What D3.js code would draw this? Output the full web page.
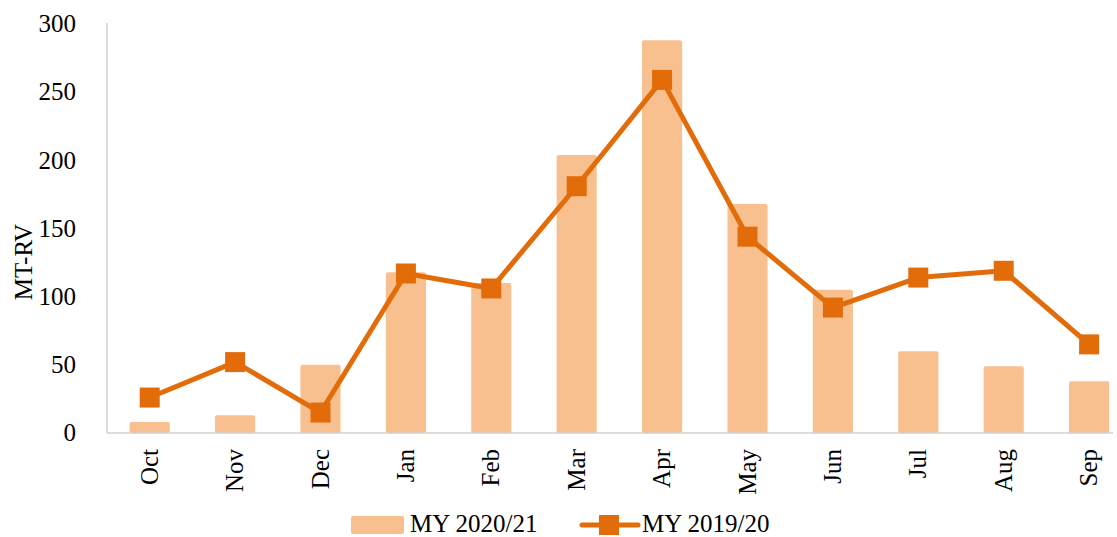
<!DOCTYPE html>
<html>
<head>
<meta charset="utf-8">
<script src="https://cdn.jsdelivr.net/npm/d3@7"></script>
<style>
  body { margin: 0; background: #fff; }
  svg text { font-family: 'Liberation Serif', serif; }
</style>
</head>
<body>
<script>
const width = 1117;
const height = 537;
const fontSize = 25;

// monthly data, MT-RV
const months = ['Oct', 'Nov', 'Dec', 'Jan', 'Feb', 'Mar', 'Apr', 'May', 'Jun', 'Jul', 'Aug', 'Sep'];
const my2021 = [8, 13, 50, 118, 110, 204, 288, 168, 105, 60, 49, 38];
const my1920 = [26, 52, 15, 117, 106, 181, 259, 144, 92, 114, 119, 65];
const yTicks = [0, 50, 100, 150, 200, 250, 300];

const barColor = '#f9c08f';
const lineColor = '#e36c0a';

const margin = { top: 24, bottom: 104, left: 107 };
const axisRight = 1113;

const svg = d3.create('svg')
  .attr('width', width)
  .attr('height', height);
document.body.appendChild(svg.node());

// plot area runs a little past the picture edge, as in the original
const x = d3.scaleBand()
  .domain(months)
  .range([margin.left, margin.left + 12 * 85.4])
  .paddingInner(0.53)
  .paddingOuter(0.265);

const y = d3.scaleLinear()
  .domain([0, 300])
  .range([height - margin.bottom, margin.top]);

svg.append('line')
  .attr('x1', margin.left).attr('x2', margin.left)
  .attr('y1', y(300) - 1).attr('y2', y(0))
  .attr('stroke', '#d0d0d0').attr('stroke-width', 1.5);

svg.selectAll('.ytick')
  .data(yTicks)
  .enter().append('text')
  .attr('class', 'ytick')
  .attr('x', 76)
  .attr('y', d => y(d))
  .attr('dy', '0.33em')
  .attr('text-anchor', 'end')
  .attr('font-size', fontSize)
  .text(d => d);

svg.append('text')
  .attr('transform', 'translate(32,262) rotate(-90)')
  .attr('text-anchor', 'middle')
  .attr('font-size', fontSize)
  .text('MT-RV');

// bars
svg.selectAll('.bar')
  .data(my2021)
  .enter().append('rect')
  .attr('class', 'bar')
  .attr('x', (d, i) => x(months[i]))
  .attr('y', d => y(d))
  .attr('width', x.bandwidth())
  .attr('height', d => y(0) - y(d))
  .attr('rx', 2)
  .attr('fill', barColor);

svg.append('line')
  .attr('x1', margin.left).attr('x2', axisRight)
  .attr('y1', y(0)).attr('y2', y(0))
  .attr('stroke', '#d0d0d0').attr('stroke-width', 1.5);

// line series
const cx = i => x(months[i]) + x.bandwidth() / 2;
const line = d3.line()
  .x((d, i) => cx(i))
  .y(d => y(d));

svg.append('path')
  .datum(my1920)
  .attr('d', line)
  .attr('fill', 'none')
  .attr('stroke', lineColor)
  .attr('stroke-width', 5)
  .attr('stroke-linejoin', 'round');

svg.selectAll('.marker')
  .data(my1920)
  .enter().append('rect')
  .attr('class', 'marker')
  .attr('x', (d, i) => cx(i) - 10)
  .attr('y', d => y(d) - 10)
  .attr('width', 20)
  .attr('height', 20)
  .attr('fill', lineColor);

// month labels
svg.selectAll('.xtick')
  .data(months)
  .enter().append('text')
  .attr('class', 'xtick')
  .attr('transform', d => `translate(${x(d) + x.bandwidth() / 2 + 8},449) rotate(-90)`)
  .attr('text-anchor', 'end')
  .attr('font-size', fontSize)
  .text(d => d);

// legend
const legend = svg.append('g');
legend.append('rect')
  .attr('x', 351).attr('y', 516)
  .attr('width', 53).attr('height', 18)
  .attr('rx', 2)
  .attr('fill', barColor);
legend.append('text')
  .attr('x', 410).attr('y', 532)
  .attr('font-size', fontSize)
  .text('MY 2020/21');
legend.append('line')
  .attr('x1', 582).attr('x2', 638)
  .attr('y1', 525).attr('y2', 525)
  .attr('stroke', lineColor).attr('stroke-width', 5)
  .attr('stroke-linecap', 'round');
legend.append('rect')
  .attr('x', 599).attr('y', 515)
  .attr('width', 20).attr('height', 20)
  .attr('fill', lineColor);
legend.append('text')
  .attr('x', 642).attr('y', 532)
  .attr('font-size', fontSize)
  .text('MY 2019/20');
</script>
</body>
</html>
